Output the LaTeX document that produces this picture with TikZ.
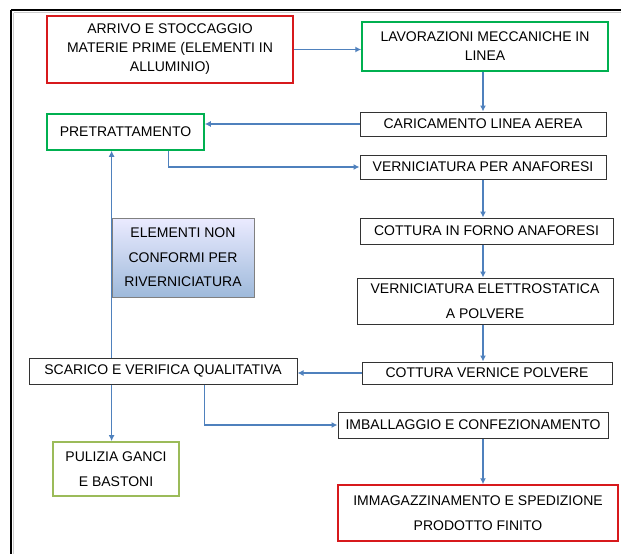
\documentclass[tikz,border=0pt]{standalone}
\usepackage{fontspec}
\setmainfont{Liberation Sans}
\usetikzlibrary{calc, positioning, arrows.meta}

\definecolor{flowblue}{HTML}{4F81BD}
\definecolor{boxred}{HTML}{D7191C}
\definecolor{boxgreen}{HTML}{00B050}
\definecolor{boxolive}{HTML}{9BBB59}

\begin{document}
\begin{tikzpicture}[x=1pt, y=-1pt,
    box/.style={draw=black!80, line width=1pt, align=center, inner sep=0pt,
      font=\fontsize{14}{19}\selectfont},
    redbox/.style={box, draw=boxred, line width=1.5pt},
    greenbox/.style={box, draw=boxgreen, line width=1.5pt},
    olivebox/.style={box, draw=boxolive, line width=1.8pt},
    wide/.style={font=\fontsize{14}{24.5}\selectfont},
    flow/.style={flowblue, line width=1.3pt, -{Latex[length=6pt, width=6pt]}}]

  \useasboundingbox (0,0) rectangle (621,554);

  % frame
  \draw[line width=2pt] (11,10) -- (640,10);
  \draw[line width=2pt] (11,10) -- (11,570);
  \draw[gray!40, line width=0.6pt] (13.5,12.5) -- (640,12.5);
  \draw[gray!40, line width=0.6pt] (13.5,12.5) -- (13.5,570);

  % boxes
  \node[redbox, minimum width=246, minimum height=67] (arrivo) at (170,49.5)
    {ARRIVO E STOCCAGGIO\\MATERIE PRIME (ELEMENTI IN\\ALLUMINIO)};
  \node[greenbox, minimum width=246, minimum height=49] (lavor) at (485,46.5)
    {LAVORAZIONI MECCANICHE IN\\LINEA};
  \node[box, minimum width=246, minimum height=24] (caric) at (483,124)
    {CARICAMENTO LINEA AEREA};
  \node[greenbox, minimum width=157, minimum height=36] (pretr) at (125.5,132)
    {PRETRATTAMENTO};
  \node[box, minimum width=246, minimum height=24] (vern) at (483,167)
    {VERNICIATURA PER ANAFORESI};
  \node[box, minimum width=253, minimum height=26] (forno) at (486.5,231)
    {COTTURA IN FORNO ANAFORESI};
  \node[box, wide, minimum width=256, minimum height=46] (elettro) at (485,301)
    {VERNICIATURA ELETTROSTATICA\\A POLVERE};
  \node[box, minimum width=250, minimum height=22] (polv) at (487,373)
    {COTTURA VERNICE POLVERE};
  \node[box, minimum width=268, minimum height=26] (scarico) at (163,371)
    {SCARICO E VERIFICA QUALITATIVA};
  \node[box, wide, draw=gray, line width=0.8pt, top color=blue!8!white,
    bottom color=flowblue!55!white, minimum width=142, minimum height=79] (elem) at (183,257.5)
    {ELEMENTI NON\\CONFORMI PER\\RIVERNICIATURA};
  \node[olivebox, wide, minimum width=126, minimum height=54] (pulizia) at (116,469)
    {PULIZIA GANCI\\E BASTONI};
  \node[box, minimum width=270, minimum height=26] (imball) at (473,425)
    {IMBALLAGGIO E CONFEZIONAMENTO};
  \node[redbox, wide, minimum width=280, minimum height=56] (immag) at (478,513)
    {IMMAGAZZINAMENTO E SPEDIZIONE\\PRODOTTO FINITO};

  % connectors
  \coordinate (col) at (483,0);
  \draw[flow] (arrivo.east) -- (arrivo.east -| lavor.west);
  \draw[flow] (lavor.south -| col) -- (caric.north -| col);
  \draw[flow] (caric.west) -- (caric.west -| pretr.east);
  \draw[flow] ($(pretr.south east)+(-36,0)$) |- (vern.west);
  \draw[flow] (vern.south -| col) -- (forno.north -| col);
  \draw[flow] (forno.south -| col) -- (elettro.north -| col);
  \draw[flow] (elettro.south -| col) -- (polv.north -| col);
  \draw[flow] (polv.west) -- (polv.west -| scarico.east);
  \draw[flow] (scarico.north -| elem.west) -- (pretr.south -| elem.west);
  \draw[flow] (scarico.south -| elem.west) -- (pulizia.north -| elem.west);
  \draw[flow] (scarico.south -| pretr.east) |- (imball.west);
  \draw[flow] (imball.south -| col) -- (immag.north -| col);

\end{tikzpicture}
\end{document}
